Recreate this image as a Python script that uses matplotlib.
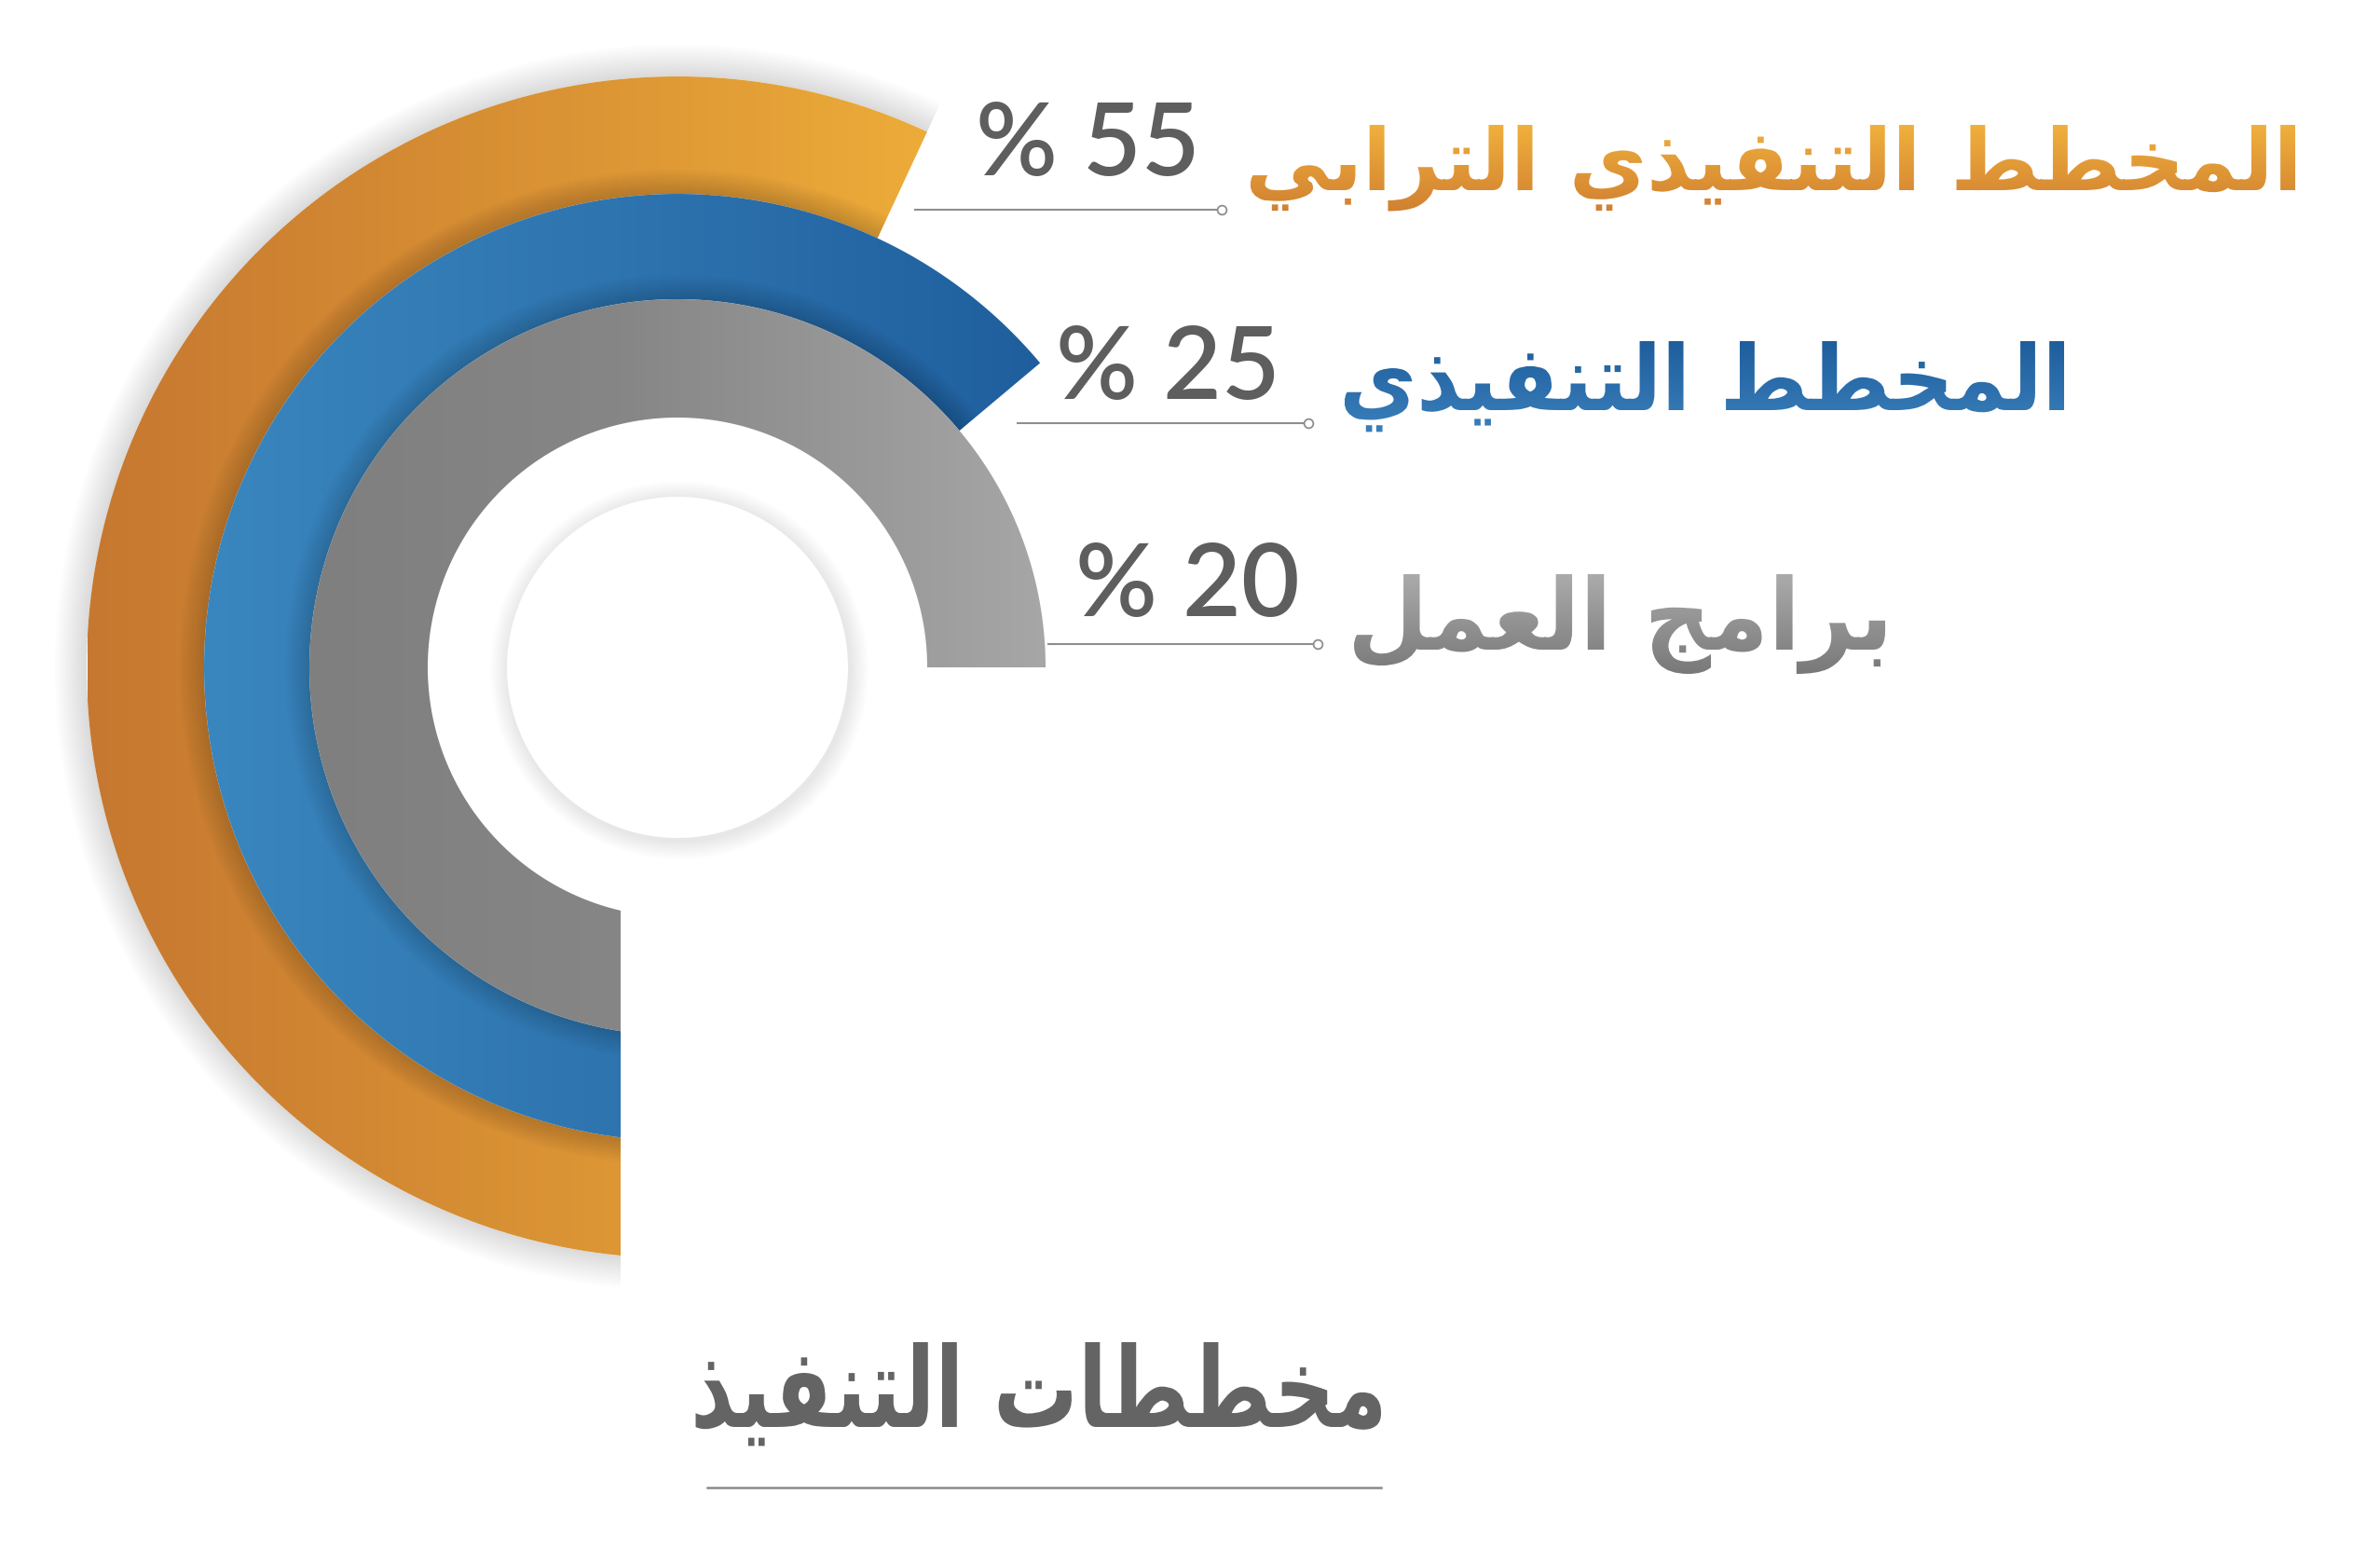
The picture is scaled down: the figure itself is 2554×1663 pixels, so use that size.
import numpy as np
import matplotlib
matplotlib.use("Agg")
import matplotlib.pyplot as plt
from matplotlib.path import Path
from matplotlib.textpath import TextPath
from matplotlib.font_manager import FontProperties
from matplotlib.colors import LinearSegmentedColormap
from matplotlib.transforms import Affine2D
from matplotlib.patches import PathPatch, Circle

W, H = 2554, 1663

# --- datos ---
labels = ["المخطط التنفيذي الترابي", "المخطط التنفيذي", "برامج العمل"]
shares = [55, 25, 20]
title = "مخططات التنفيذ"

# --- estilo (coordenadas en pixeles, y hacia abajo) ---
CX, CY = 727, 716
RADII = [(508, 634), (395, 508), (268, 395)]
END_ANG = [65, 40, 0]
CUT_X = 666
RING_COLS = [["#C67830", "#DD9735", "#F3B43B"],
             ["#3D8BC3", "#2E74AF", "#1F5E9D"],
             ["#7A7A7A", "#868686", "#A7A7A7"]]
GRAD_X = [94, 666, 1130]
TEXT_COLS = [["#F0B03C", "#C8732E"], ["#1F5E9D", "#4189C3"], ["#ABABAB", "#6A6A6A"]]
LABEL_BOX = [(1336, 2463, 134, 204), (1437, 2215, 366, 440), (1446, 2023, 616, 697)]
PCT_POS = [(1288, 188), (1374, 428), (1395, 661)]
LEADERS = [(981, 1311, 225), (1091, 1404, 454), (1124, 1414, 691)]
TITLE_BOX = (741, 1482, 1440, 1531)
GREY = "#5E5E5E"

# formas de presentacion: aislada, final, inicial, media
FORMS = {
    "ا": ("\uFE8D", "\uFE8E", None, None),
    "ب": ("\uFE8F", "\uFE90", "\uFE91", "\uFE92"),
    "ت": ("\uFE95", "\uFE96", "\uFE97", "\uFE98"),
    "ج": ("\uFE9D", "\uFE9E", "\uFE9F", "\uFEA0"),
    "خ": ("\uFEA5", "\uFEA6", "\uFEA7", "\uFEA8"),
    "ذ": ("\uFEAB", "\uFEAC", None, None),
    "ر": ("\uFEAD", "\uFEAE", None, None),
    "ط": ("\uFEC1", "\uFEC2", "\uFEC3", "\uFEC4"),
    "ع": ("\uFEC9", "\uFECA", "\uFECB", "\uFECC"),
    "ف": ("\uFED1", "\uFED2", "\uFED3", "\uFED4"),
    "ل": ("\uFEDD", "\uFEDE", "\uFEDF", "\uFEE0"),
    "م": ("\uFEE1", "\uFEE2", "\uFEE3", "\uFEE4"),
    "ن": ("\uFEE5", "\uFEE6", "\uFEE7", "\uFEE8"),
    "ي": ("\uFEF1", "\uFEF2", "\uFEF3", "\uFEF4"),
}


def shape(txt):
    out = []
    for i, ch in enumerate(txt):
        f = FORMS.get(ch)
        if f is None:
            out.append(ch)
            continue
        prev = txt[i - 1] if i > 0 else ""
        nxt = txt[i + 1] if i + 1 < len(txt) else ""
        jp = prev in FORMS and FORMS[prev][2] is not None
        jn = f[2] is not None and nxt in FORMS
        out.append(f[3] if jp and jn else f[1] if jp else f[2] if jn else f[0])
    return "".join(reversed(out))


def ring_path(r_in, r_out, t_end):
    d = CX - CUT_X
    a_out = 270 - np.degrees(np.arcsin(d / r_out))
    a_in = 270 - np.degrees(np.arcsin(d / r_in))
    to = np.radians(np.linspace(t_end, a_out, 400))
    ti = np.radians(np.linspace(a_in, t_end, 400))
    xs = np.r_[CX + r_out * np.cos(to), CX + r_in * np.cos(ti)]
    ys = np.r_[CY - r_out * np.sin(to), CY - r_in * np.sin(ti)]
    v = np.c_[xs, ys]
    return Path(np.vstack([v, v[:1]]), closed=True)


def gradient(ax, path, extent, cmap, horizontal=True):
    g = np.linspace(0, 1, 256)
    arr = g[None, :] if horizontal else g[:, None]
    im = ax.imshow(arr, cmap=cmap, extent=extent, origin="upper",
                   aspect="auto", interpolation="bilinear", zorder=3)
    im.set_clip_path(path, transform=ax.transData)
    return im


def soft_band(ax, r0, r1, t_end, alpha, n=12, z=2):
    for k in range(n):
        rr = r0 + (r1 - r0) * (k + 1) / n
        ax.add_patch(PathPatch(ring_path(r0, rr, t_end), fc="black", ec="none",
                               alpha=alpha, zorder=z))


def arabic_path(txt, box, bold=True):
    fp = FontProperties(family="DejaVu Sans", weight="bold" if bold else "normal")
    tp = TextPath((0, 0), shape(txt), size=100, prop=fp)
    v = tp.vertices
    x0, x1, top, base = box
    sx = (x1 - x0) / (v[:, 0].max() - v[:, 0].min())
    sy = (base - top) / v[:, 1].max()
    tr = Affine2D().translate(-v[:, 0].min(), 0).scale(sx, -sy).translate(x0, base)
    return tr.transform_path(tp)


fig = plt.figure(figsize=(W / 100, H / 100), dpi=100)
ax = fig.add_axes([0, 0, 1, 1])
ax.set_facecolor("white")

# halo exterior
soft_band(ax, RADII[0][1], RADII[0][1] + 34, END_ANG[0], 0.01, z=1)

for i, ((r_in, r_out), t_end, cols) in enumerate(zip(RADII, END_ANG, RING_COLS)):
    p = ring_path(r_in, r_out, t_end)
    pos = [(x - GRAD_X[0]) / (GRAD_X[-1] - GRAD_X[0]) for x in GRAD_X]
    cmap = LinearSegmentedColormap.from_list(f"r{i}", list(zip(pos, cols)))
    im = gradient(ax, p, (GRAD_X[0], GRAD_X[-1], CY + r_out, CY - r_out), cmap)
    im.set_zorder(2 + 2 * i)
    if i > 0:
        # sombra que proyecta el anillo sobre el anterior
        t_sh = max(t_end, END_ANG[i - 1])
        for k in range(10):
            rr = r_out + 26 * (k + 1) / 10
            ax.add_patch(PathPatch(ring_path(r_out, rr, t_sh), fc="black", ec="none",
                                   alpha=0.016, zorder=1.5 + 2 * i))

# circulo central con sombra
for k in range(12):
    ax.add_patch(Circle((CX + 2, CY + 3), 183 + 20 * (k + 1) / 12, fc="black",
                        ec="none", alpha=0.009, zorder=9))
ax.add_patch(Circle((CX, CY), 183, fc="white", ec="none", zorder=10))

# etiquetas
for i, (lab, sh) in enumerate(zip(labels, shares)):
    p = arabic_path(lab, LABEL_BOX[i])
    ext = p.get_extents()
    cmap = LinearSegmentedColormap.from_list(f"t{i}", TEXT_COLS[i])
    gradient(ax, p, (ext.x0, ext.x1, LABEL_BOX[i][2] + (LABEL_BOX[i][3] - LABEL_BOX[i][2]) * 1.7,
                     LABEL_BOX[i][2]), cmap, horizontal=False)
    x, y = PCT_POS[i]
    ax.text(x, y, f"% {sh}", ha="right", va="baseline", fontsize=78,
            family=["Lato", "DejaVu Sans"], fontweight="semibold", color=GREY, zorder=12)
    lx0, lx1, ly = LEADERS[i]
    ax.plot([lx0, lx1], [ly, ly], color="#8E8E8E", lw=1.5, zorder=12,
            solid_capstyle="butt")
    ax.plot([lx1], [ly], "o", ms=7, mfc="white", mec="#8E8E8E", mew=1.3, zorder=13)

# titulo
tp = arabic_path(title, TITLE_BOX)
ax.add_patch(PathPatch(tp, fc="#646464", ec="none", zorder=12))
ax.plot([759, 1482], [1596, 1596], color="#8A8A8A", lw=1.8, zorder=12)

ax.set_xlim(0, W)
ax.set_ylim(H, 0)
ax.axis("off")
fig.savefig("out.png", dpi=100, facecolor="white")
